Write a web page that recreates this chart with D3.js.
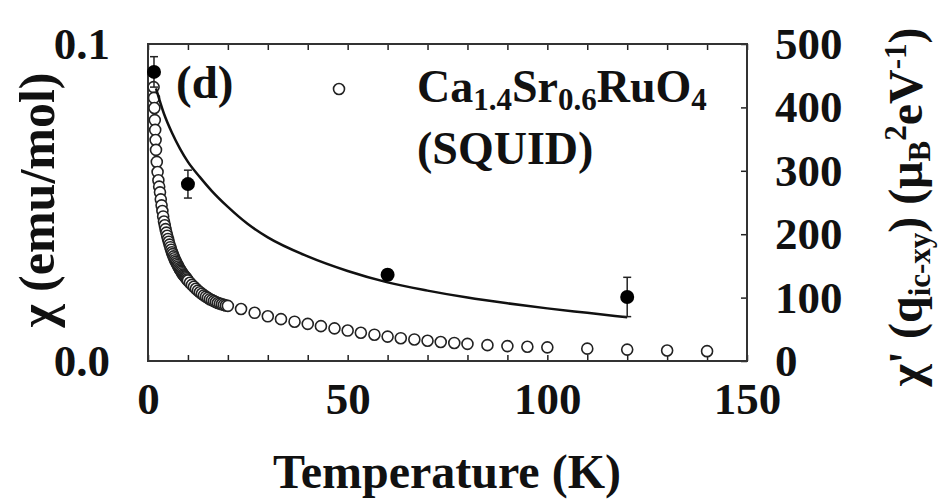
<!DOCTYPE html>
<html>
<head>
<meta charset="utf-8">
<script src="https://cdn.jsdelivr.net/npm/d3@7"></script>
<style>
  html, body { margin: 0; padding: 0; background: #fff; }
  svg { display: block; }
  svg text { font-family: "Liberation Serif", "Times New Roman", Times, serif; font-weight: bold; fill: #111; }
</style>
</head>
<body>
<svg id="chart"></svg>
<script>
// SQUID susceptibility (open circles), left axis, emu/mol
const squidT = [1.4, 1.5, 1.6, 1.7, 1.8, 1.9, 2.0, 2.2, 2.4, 2.6, 2.8,
  3.0, 3.2, 3.4, 3.6, 3.8, 4.0, 4.2, 4.4, 4.6, 4.8, 5.0, 5.2, 5.4, 5.6, 5.8,
  6.0, 6.2, 6.4, 6.6, 6.8, 7.0, 7.2, 7.4, 7.6, 7.8, 8.0, 8.2, 8.4, 8.6, 8.8,
  9.0, 9.2, 9.4, 9.6, 9.8, 10.0, 10.5, 11, 11.5, 12, 12.5, 13, 13.5, 14, 14.5,
  15, 15.5, 16, 16.5, 17, 17.5, 18, 18.5, 19, 19.5, 20,
  23.3, 26.7, 30, 33.3, 36.7, 40, 43.3, 46.7, 50, 53.3, 56.7, 60, 63.3, 66.7,
  70, 73.3, 76.7, 80, 85, 90, 95, 100, 110, 120, 130, 140];
const squidChi = [0.0864, 0.0830, 0.0798, 0.0760, 0.0729, 0.0697, 0.0666, 0.0628, 0.0596, 0.0570, 0.0550,
  0.0532, 0.0510, 0.0491, 0.0473, 0.0456, 0.0440, 0.0428, 0.0416, 0.0405, 0.0395, 0.0385, 0.0376, 0.0367, 0.0359, 0.0351,
  0.0343, 0.0337, 0.0330, 0.0324, 0.0318, 0.0313, 0.0308, 0.0303, 0.0298, 0.0293, 0.0289, 0.0285, 0.0281, 0.0277, 0.0273,
  0.0270, 0.0267, 0.0264, 0.0261, 0.0257, 0.0254, 0.0247, 0.0240, 0.0234, 0.0228, 0.0222, 0.0217, 0.0212, 0.0207, 0.0203,
  0.0199, 0.0195, 0.0192, 0.0189, 0.0186, 0.0183, 0.0181, 0.0179, 0.0177, 0.0175, 0.0174,
  0.0164, 0.0152, 0.0141, 0.0132, 0.0124, 0.0117, 0.0110, 0.0103, 0.0096, 0.0089, 0.0083, 0.0077, 0.0072, 0.0068,
  0.0064, 0.0060, 0.0057, 0.0054, 0.0050, 0.0047, 0.0045, 0.0043, 0.0039, 0.0036, 0.0033, 0.0031];

// chi'(q) points (filled circles), right axis
const qT = [1.5, 10, 60, 120];
const qVal = [456, 279, 136, 101];
const qErr = [24, 22, 8, 31];

// fit curve, right axis
const fitT = [2, 4, 6, 8, 10, 13, 16, 20, 25, 30, 40, 50, 60, 70, 80, 90, 100, 110, 120];
const fitVal = [430, 390, 360, 335, 314, 290, 268, 243, 216, 195, 165, 142, 124, 111, 100, 91, 83, 76, 69];

const xTicks = d3.range(0, 151, 10);
const xLabels = [0, 50, 100, 150];
const leftTicks = [0, 0.1];
const rightTicks = [0, 100, 200, 300, 400, 500];

const width = 949, height = 499;
const mLeft = 148, mRight = 747, mTop = 44, mBottom = 361;

const svg = d3.select('#chart').attr('width', width).attr('height', height);

const x = d3.scaleLinear().domain([0, 150]).range([mLeft, mRight]);
const yL = d3.scaleLinear().domain([0, 0.1]).range([mBottom, mTop]);
const yR = d3.scaleLinear().domain([0, 500]).range([mBottom, mTop]);

// axes
const fmtX = d => xLabels.includes(d) ? d : '';
svg.append('g')
   .attr('transform', `translate(0,${mBottom})`)
   .call(d3.axisBottom(x).tickValues(xTicks).tickSize(-6).tickPadding(21).tickFormat(fmtX))
   .call(g => g.selectAll('text').attr('font-size', 45));
svg.append('g')
   .attr('transform', `translate(0,${mTop})`)
   .call(d3.axisTop(x).tickValues(xTicks).tickSize(-6).tickFormat(''));
svg.append('g')
   .attr('transform', `translate(${mLeft},0)`)
   .call(d3.axisLeft(yL).tickValues(leftTicks).tickSize(0).tickPadding(38).tickFormat(d3.format('.1f')))
   .call(g => g.selectAll('text').attr('font-size', 45));
svg.append('g')
   .attr('transform', `translate(${mRight},0)`)
   .call(d3.axisRight(yR).tickValues(rightTicks).tickSize(-6).tickPadding(28))
   .call(g => g.selectAll('text').attr('font-size', 45));

svg.selectAll('.domain').remove();
svg.selectAll('g').attr('font-family', null);
svg.selectAll('.tick line').attr('stroke', '#222').attr('stroke-width', 1.5);
svg.selectAll('.tick text').attr('fill', '#111');

svg.append('rect')
   .attr('x', mLeft).attr('y', mTop)
   .attr('width', mRight - mLeft).attr('height', mBottom - mTop)
   .attr('fill', 'none').attr('stroke', '#333').attr('stroke-width', 2);

// open circles
const squid = squidT.map((t, i) => ({ t, v: squidChi[i] }));
svg.append('g')
   .selectAll('circle')
   .data(squid)
   .join('circle')
   .attr('cx', d => x(d.t))
   .attr('cy', d => yL(d.v))
   .attr('r', 5.5)
   .attr('fill', '#fff')
   .attr('stroke', '#222')
   .attr('stroke-width', 1.6);

// fit line
const line = d3.line()
   .x((d, i) => x(fitT[i]))
   .y(d => yR(d))
   .curve(d3.curveMonotoneX);
svg.append('path')
   .attr('d', line(fitVal))
   .attr('fill', 'none')
   .attr('stroke', '#111')
   .attr('stroke-width', 2.5);

// filled circles with error bars
const q = qT.map((t, i) => ({ t, v: qVal[i], e: qErr[i] }));
const eb = svg.append('g').attr('stroke', '#222').attr('stroke-width', 1.5);
eb.selectAll('line.bar')
  .data(q).join('line').attr('class', 'bar')
  .attr('x1', d => x(d.t)).attr('x2', d => x(d.t))
  .attr('y1', d => yR(d.v - d.e)).attr('y2', d => yR(d.v + d.e));
eb.selectAll('line.capTop')
  .data(q).join('line').attr('class', 'capTop')
  .attr('x1', d => x(d.t) - 4).attr('x2', d => x(d.t) + 4)
  .attr('y1', d => yR(d.v + d.e)).attr('y2', d => yR(d.v + d.e));
eb.selectAll('line.capBot')
  .data(q).join('line').attr('class', 'capBot')
  .attr('x1', d => x(d.t) - 4).attr('x2', d => x(d.t) + 4)
  .attr('y1', d => yR(d.v - d.e)).attr('y2', d => yR(d.v - d.e));
svg.append('g')
   .selectAll('circle')
   .data(q)
   .join('circle')
   .attr('cx', d => x(d.t))
   .attr('cy', d => yR(d.v))
   .attr('r', 7)
   .attr('fill', '#000');

// labels
svg.append('text')
   .attr('x', 176).attr('y', 98)
   .attr('font-size', 47)
   .text('(d)');

svg.append('circle')
   .attr('cx', 339).attr('cy', 89).attr('r', 5.5)
   .attr('fill', '#fff').attr('stroke', '#222').attr('stroke-width', 1.6);

const leg = svg.append('text').attr('x', 417).attr('y', 102).attr('font-size', 46);
leg.append('tspan').text('Ca');
leg.append('tspan').attr('font-size', 31).attr('dy', 8).text('1.4');
leg.append('tspan').attr('dy', -8).text('Sr');
leg.append('tspan').attr('font-size', 31).attr('dy', 8).text('0.6');
leg.append('tspan').attr('dy', -8).text('RuO');
leg.append('tspan').attr('font-size', 31).attr('dy', 8).text('4');

svg.append('text')
   .attr('x', 417).attr('y', 164)
   .attr('font-size', 46)
   .text('(SQUID)');

svg.append('text')
   .attr('x', 447).attr('y', 488)
   .attr('text-anchor', 'middle')
   .attr('font-size', 48)
   .text('Temperature (K)');

svg.append('text')
   .attr('transform', 'translate(54,200) rotate(-90)')
   .attr('text-anchor', 'middle')
   .attr('font-size', 50)
   .text('χ (emu/mol)');

const rl = svg.append('text')
   .attr('transform', 'translate(922,207) rotate(-90)')
   .attr('text-anchor', 'middle')
   .attr('font-size', 48);
rl.append('tspan').text("χ' (q");
rl.append('tspan').attr('font-size', 31).attr('dy', 8).text('ic-xy');
rl.append('tspan').attr('dy', -8).text(') (μ');
rl.append('tspan').attr('font-size', 31).attr('dy', 8).text('B');
rl.append('tspan').attr('font-size', 31).attr('dy', -24).text('2');
rl.append('tspan').attr('dy', 16).text('eV');
rl.append('tspan').attr('font-size', 31).attr('dy', -16).text('-1');
rl.append('tspan').attr('dy', 16).text(')');
</script>
</body>
</html>
